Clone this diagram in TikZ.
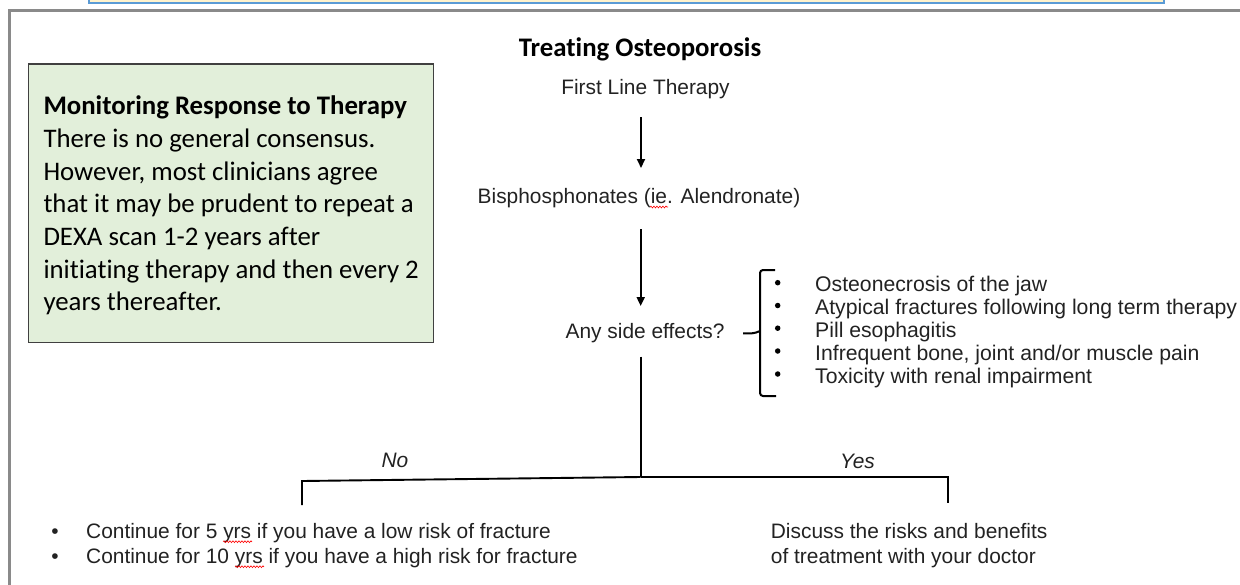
\documentclass[tikz,border=0pt]{standalone}
\usepackage{fontspec}
\setmainfont{Liberation Sans}
\newfontfamily\calibri[Ligatures=NoCommon]{Carlito}
\usetikzlibrary{arrows.meta,decorations.pathmorphing}
\definecolor{framegray}{HTML}{8A8A8A}
\definecolor{boxblue}{HTML}{5B9BD5}
\definecolor{boxyellow}{HTML}{FFF2CC}
\definecolor{boxgreen}{HTML}{E2EFDA}
\definecolor{boxedge}{HTML}{404040}
\definecolor{txt}{HTML}{222222}
\begin{document}
\begin{tikzpicture}[x=1pt,y=-1pt,
  arial/.style={font=\fontsize{20.9}{25}\selectfont, text=txt, inner sep=0pt},
  listtxt/.style={font=\fontsize{21.2}{22.8}\selectfont, text=txt, inner sep=0pt, anchor=base west},
  calib/.style={font=\calibri\fontsize{26.8}{32.7}\selectfont, text=black, inner sep=0pt},
  conn/.style={line width=1.9pt, draw=black, line join=miter},
  arr/.style={conn, -{Triangle[width=8pt,length=9pt]}},
  squig/.style={draw=red, line width=0.6pt, decorate, decoration={snake, amplitude=0.9pt, segment length=3pt}},
  dot/.style={circle, fill=black, inner sep=0pt, minimum size=5.5pt}
]
\useasboundingbox (0,0) rectangle (1240,584);
\clip (0,0) rectangle (1240,584);
% partial boxes at the page edges
\draw[draw=boxblue, fill=boxyellow, line width=2pt] (89,-10) rectangle (1164,3);
\draw[draw=framegray, line width=3pt] (9.5,600) -- (9.5,10.5) -- (1260,10.5);

% monitoring box
\node (mon) [draw=boxedge, fill=boxgreen, line width=1.3pt, minimum width=405pt, minimum height=278.4pt, anchor=north west, inner sep=0pt] at (28,63.3) {};
\node (montext) [calib, align=left, anchor=north west] at (43.3,95.6)
  {{\bfseries Monitoring Response to Therapy}\\
   There is no general consensus.\\
   However, most clinicians agree\\
   that it may be prudent to repeat a\\
   DEXA scan 1-2 years after\\
   initiating therapy and then every 2\\
   years thereafter.};

% main flow
\node (title) [calib, anchor=base] at (640,56) {\bfseries Treating Osteoporosis};
\node (first) [arial, anchor=base] at (645.5,94) {First Line Therapy};
\node (bis) [arial, anchor=base] at (639,203) {Bisphosphonates (ie. Alendronate)};
\node (side) [arial, anchor=base] at (645,338) {Any side effects?};

\coordinate (a1s) at (641,117);
\coordinate (a1e) at (641,168);
\coordinate (a2s) at (640.7,229);
\coordinate (a2e) at (640.7,306);
\draw[arr] (a1s) -- (a1e);
\draw[arr] (a2s) -- (a2e);

% side effects bracket and list
\coordinate (bt) at (775,270);
\coordinate (bb) at (776,396);
\coordinate (bm) at (743,333.3);
\draw[conn, line width=2pt, rounded corners=3pt] (bt) -- (760,270) -- (760,396) -- (bb);
\draw[conn, line width=2pt, rounded corners=2pt] (bm) -- (754,333.3) -- (760,331);
\node (b1) [dot] at (777.7,282.7) {};
\node (b2) [dot] at (777.7,305.5) {};
\node (b3) [dot] at (777.7,328.2) {};
\node (b4) [dot] at (777.7,351) {};
\node (b5) [dot] at (777.7,374) {};
\node (s1) [listtxt] at (815,291.7) {Osteonecrosis of the jaw};
\node (s2) [listtxt] at (815,314.5) {Atypical fractures following long term therapy};
\node (s3) [listtxt] at (815,337.2) {Pill esophagitis};
\node (s4) [listtxt] at (815,360) {Infrequent bone, joint and/or muscle pain};
\node (s5) [listtxt] at (815,383) {Toxicity with renal impairment};

% decision tree
\coordinate (trunk) at (640.7,356.7);
\coordinate (junc) at (640.7,477);
\coordinate (lc) at (302,481);
\coordinate (le) at (302,505);
\coordinate (rc) at (948,477);
\coordinate (re) at (948,503);
\draw[conn] (trunk) -- (junc);
\draw[conn] (junc) -- (lc) -- (le);
\draw[conn] (junc) -- (rc) -- (re);
\node (no) [arial, anchor=base] at (395,467) {\itshape No};
\node (yes) [arial, anchor=base] at (857.5,468) {\itshape Yes};

% outcomes
\node (n1b) [arial, anchor=base] at (55,538) {•};
\node (n2b) [arial, anchor=base] at (55,563) {•};
\node (n1) [arial, anchor=base west] at (86,538.3) {Continue for 5 yrs if you have a low risk of fracture};
\node (n2) [arial, anchor=base west] at (86,563.3) {Continue for 10 yrs if you have a high risk for fracture};
\node (y1) [arial, anchor=base west] at (770.7,538) {Discuss the risks and benefits};
\node (y2) [arial, anchor=base west] at (770.7,563) {of treatment with your doctor};

% spell-check marks
\draw[squig] (650,207) -- (668,207);
\draw[squig] (223,541.7) -- (252,541.7);
\draw[squig] (235,566.7) -- (264,566.7);
\end{tikzpicture}
\end{document}
